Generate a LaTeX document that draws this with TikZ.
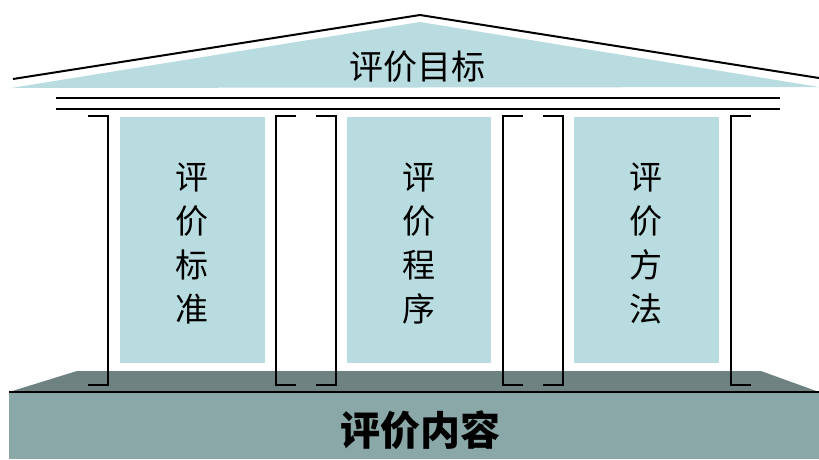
\documentclass[tikz,border=0pt]{standalone}
\usepackage{fontspec}
\newfontfamily\cjk{Noto Sans CJK SC}
\definecolor{roofblue}{HTML}{B9DCE0}
\definecolor{basetop}{HTML}{6E8282}
\definecolor{basefront}{HTML}{8AA8A8}
\begin{document}
\begin{tikzpicture}[x=1pt,y=-1pt,
  blk/.style={line width=2pt,black},
  colbox/.style={fill=roofblue,draw=none},
  coltext/.style={font=\cjk\fontsize{33}{44}\selectfont,align=center,inner sep=0pt},
  brk/.style={line width=2pt,black,line join=miter}]
\useasboundingbox (0,0) rectangle (819,459);
% roof
\fill[roofblue] (11,88) -- (420,22) -- (819,87) -- cycle;
\draw[blk] (13,79) -- (420,15) -- (819,78);
\node[font=\cjk\fontsize{34}{40}\selectfont,inner sep=0pt] (goal) at (417,66.5) {评价目标};
% beams
\draw[blk] (56,98) -- (780,98);
\draw[blk] (56,109) -- (780,109);
% base
\fill[basetop] (77,371) -- (761,371) -- (819,392) -- (9,392) -- cycle;
\fill[basefront] (9,392) rectangle (819,459);
\draw[blk] (9,392) -- (819,392);
\node[font=\cjk\bfseries\fontsize{40}{44}\selectfont,inner sep=0pt] (content) at (420,430) {评价内容};
% columns
\fill[colbox] (120,117) rectangle (265,363);
\fill[colbox] (347,117) rectangle (491,363);
\fill[colbox] (574,117) rectangle (719,363);
\node[coltext] (c1) at (192,243.5) {评\\价\\标\\准};
\node[coltext] (c2) at (419,243.5) {评\\价\\程\\序};
\node[coltext] (c3) at (646,243.5) {评\\价\\方\\法};
% brackets
\foreach \x in {108,336,563} {
  \draw[brk] (\x-20,116) -- (\x,116) -- (\x,385) -- (\x-20,385);
}
\foreach \x in {276,503,731} {
  \draw[brk] (\x+20,116) -- (\x,116) -- (\x,385) -- (\x+20,385);
}
\end{tikzpicture}
\end{document}
